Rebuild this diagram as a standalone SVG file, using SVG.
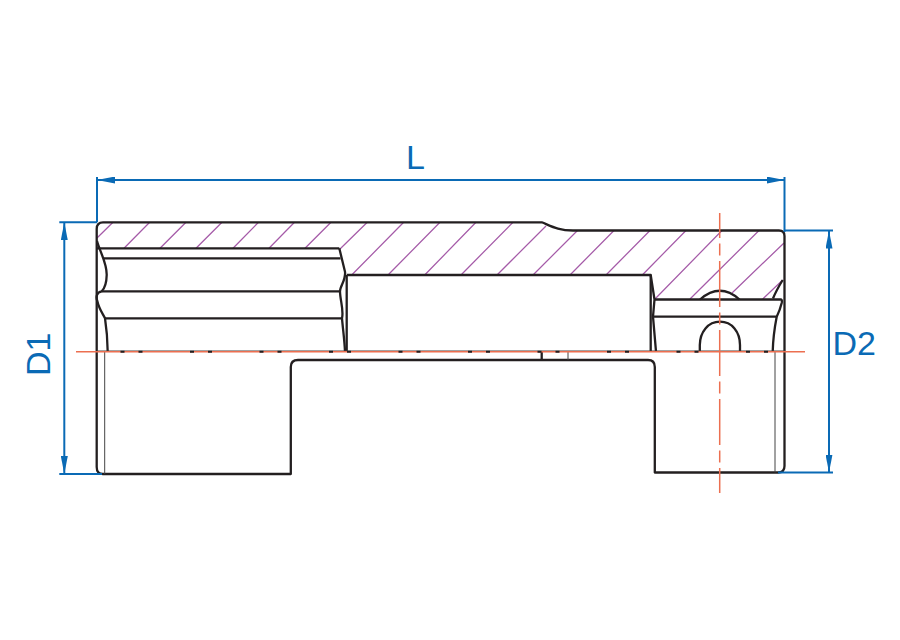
<svg xmlns="http://www.w3.org/2000/svg" width="900" height="640" viewBox="0 0 900 640">
<defs>
<marker id="ah" viewBox="0 0 18 7" refX="18" refY="3.5" markerWidth="18" markerHeight="7" markerUnits="userSpaceOnUse" orient="auto-start-reverse"><path d="M0 0L18 3.5L0 7Z" fill="#0a6ab5"/></marker>
</defs>
<style>
.o{fill:none;stroke:#231f20;stroke-width:2.3;stroke-linejoin:round}
.t{fill:none;stroke:#444;stroke-width:1}
.h{fill:none;stroke:#a55ba8;stroke-width:1.25}
.c{fill:none;stroke:#ec6f50;stroke-width:1.5}
.d{fill:none;stroke:#0a6ab5;stroke-width:2}
.x{font-family:"Liberation Sans",Arial,sans-serif;font-size:34px;fill:#0a6ab5}
</style>
<rect width="900" height="640" fill="#fff"/>
<g id="hatching" class="h">
<path d="M113 222.3L97 238M149.700 222.300L124 248.300M186 222.300L160 248.300M222 222.300L196 248.300M258.500 222.300L233 248.300M294.500 222.300L269 248.300M331 222.300L305 248.300M367.300 222.300L340 249M403.700 222.300L351.700 275M440 222.300L388 275M476 222.300L424.700 275M513 222.300L461 275M546 226L497 275M577.500 230.500L533 275M614 230.500L570 275M650 230.500L606 275M686 230.500L642.300 275M722 230.500L655 299M759 230.500L690 299M784 243L732 293M782.700 280L762.700 299"/>
</g>
<g id="socket-body" class="o">
<path d="M103 222.300H541.700C551 226 558 230.500 573 230.500H779Q784.500 230.500 784.500 236V466Q784.500 472.500 778 472.500H654.800V367Q654.800 360 648 360H298Q290.800 360 290.800 367V474H103Q96.700 474 96.700 467V229Q96.700 222.300 103 222.300Z"/>
<path d="M97 248.300H339.300M104 258.300H340.500M101.700 291.300H340M105 318.300H341.500"/>
<path d="M97 241C100 252 107 263 106.700 275C106.500 284 104 289 101.700 291.300C96 292 96 298 97.300 301C99 309 103 314 105 318.300C106.500 328 107.500 340 107.700 351.700"/>
<path d="M339.300 248.300L345 271.700C346 280 340 286 340 291.300C340 300 344 310 342 318.300C343 330 344.500 340 345 351.700"/>
<path d="M346.700 275V351.700M346.700 275H650.700V351.700"/>
<path d="M650.700 275L654.500 299.500L653 316.700L656 351.700"/>
<path d="M654.500 299.500H780Q782.500 299 781.700 303Q780 310 776.700 316.700C774.500 328 773 340 772.700 351.700M653 316.700H776.700"/>
<path d="M773 298.500C776 291 779 286 782.700 280"/>
<path d="M700 299.500Q720 282 739.500 299.500"/>
<path d="M699.800 351.700V345C700 332 708 321.700 720 321.700C732 321.700 740 332 740 345V351.700"/>
<path d="M541.700 352V360"/>
</g>
<g id="thin-lines" class="t">
<path d="M97 351H785M104.700 351.700V474M775 351.700V472.500M568 352V360"/>
</g>
<g id="center-lines">
<path class="c" d="M76 351.700H805"/>
<path class="c" stroke-dasharray="46 5.500 12 5.500" stroke-dashoffset="21" d="M719.700 213V493"/>
<path fill="none" stroke="#231f20" stroke-width="2" stroke-dasharray="4 14 4 47.500" d="M120.500 351.700H780"/>
</g>
<g id="dimensions" class="d">
<path d="M97 177V222.300M784.500 177V232M59.300 222.300H97M59.300 474H102M784 230.500H833M778 472.500H833"/>
<path d="M97 180H784.500" marker-start="url(#ah)" marker-end="url(#ah)"/>
<path d="M64.300 222.300V474" marker-start="url(#ah)" marker-end="url(#ah)"/>
<path d="M829 230.500V472.500" marker-start="url(#ah)" marker-end="url(#ah)"/>
</g>
<text id="label-L" class="x" x="406" y="169">L</text>
<text id="label-D1" class="x" transform="translate(50 376) rotate(-90)">D1</text>
<text id="label-D2" class="x" x="832.500" y="355">D2</text>
</svg>
